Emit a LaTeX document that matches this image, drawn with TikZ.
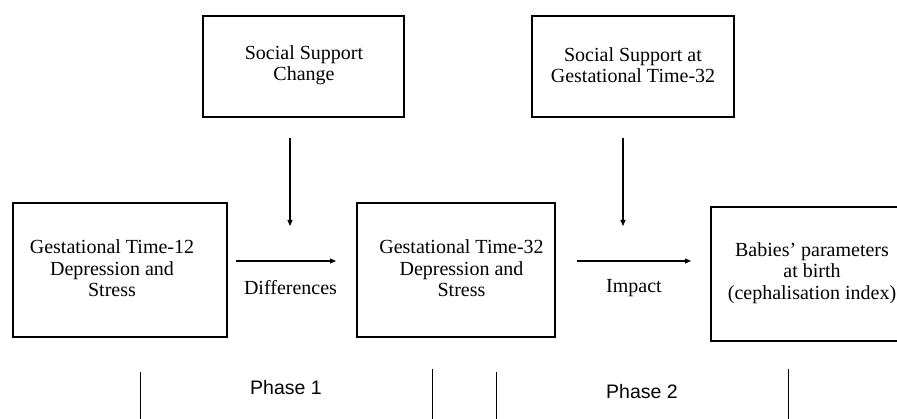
\documentclass[tikz,border=0pt]{standalone}
\usepackage{fontspec}
\setmainfont{Liberation Serif}
\newfontfamily\phasefont{Liberation Sans}
\usetikzlibrary{arrows.meta}
\tikzset{
  box/.style={draw, line width=1.1pt, inner sep=0pt},
  txt/.style={align=center, inner sep=0pt, font=\fontsize{20}{21.5}\selectfont},
  lbl/.style={inner sep=0pt, font=\fontsize{20}{21.5}\selectfont},
  phase/.style={inner sep=0pt, font=\phasefont\fontsize{19.5}{22}\selectfont},
  conn/.style={line width=1.1pt, -{Triangle[length=6pt,width=5pt]}},
  sep/.style={line width=1pt}
}
\begin{document}
\begin{tikzpicture}[x=1pt,y=-1pt]
\useasboundingbox[fill=white] (0,0) rectangle (897,419);
% boxes
\node[box, minimum width=201, minimum height=101] (ssc) at (303.5,66.5) {};
\node[box, minimum width=202, minimum height=101] (ssg) at (633,66.5) {};
\node[box, minimum width=214, minimum height=134] (gt12) at (120,270) {};
\node[box, minimum width=198, minimum height=134] (gt32) at (456,270) {};
\node[box, minimum width=202, minimum height=134] (bab) at (812,274) {};
% texts
\node[txt] (tssc) at (304,65) {Social Support\\Change};
\node[txt] (tssg) at (633,65) {Social Support at\\Gestational Time-32};
\node[txt] (t12) at (112,268.5) {Gestational Time-12\\Depression and\\Stress};
\node[txt] (t32) at (461.5,268.5) {Gestational Time-32\\Depression and\\Stress};
\node[txt] (tbab) at (812,273) {Babies’ parameters\\at birth\\(cephalisation index)};
% connectors
\coordinate (a1s) at (290,138);
\coordinate (a1e) at (290,226);
\coordinate (a2s) at (623,138);
\coordinate (a2e) at (623,226);
\coordinate (h1s) at (236,261);
\coordinate (h1e) at (336,261);
\coordinate (h2s) at (577,261);
\coordinate (h2e) at (691,261);
\draw[conn] (a1s) -- (a1e);
\draw[conn] (a2s) -- (a2e);
\draw[conn] (h1s) -- (h1e);
\draw[conn] (h2s) -- (h2e);
\node[lbl] (ldiff) at (290.5,288) {Differences};
\node[lbl] (limp) at (634,288) {Impact};
% phases
\coordinate (p1a) at (140,372); \coordinate (p1b) at (140,419);
\coordinate (p2a) at (432,369); \coordinate (p2b) at (432,419);
\coordinate (p3a) at (496,372); \coordinate (p3b) at (496,419);
\coordinate (p4a) at (788,369); \coordinate (p4b) at (788,419);
\draw[sep] (p1a) -- (p1b);
\draw[sep] (p2a) -- (p2b);
\draw[sep] (p3a) -- (p3b);
\draw[sep] (p4a) -- (p4b);
\node[phase] (ph1) at (286,388) {Phase 1};
\node[phase] (ph2) at (642,392) {Phase 2};
\end{tikzpicture}
\end{document}
